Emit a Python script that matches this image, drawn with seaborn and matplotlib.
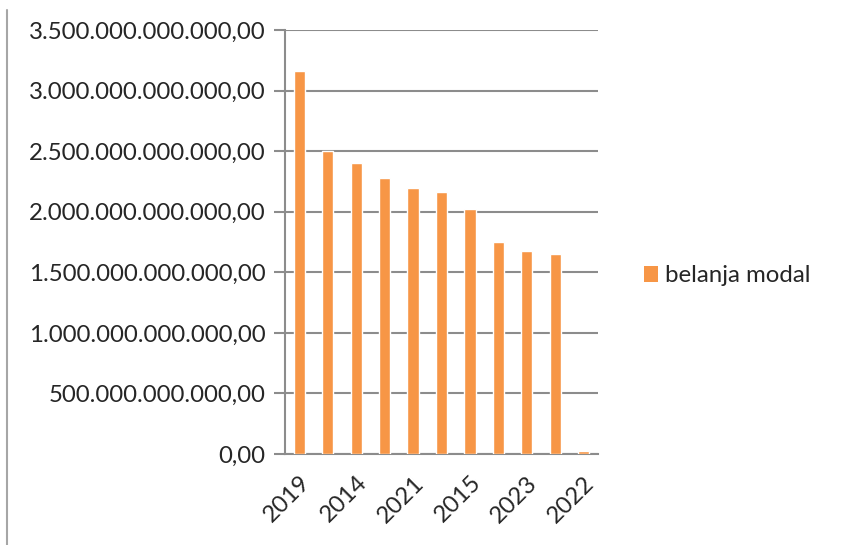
import matplotlib
matplotlib.use("Agg")
import matplotlib.pyplot as plt
import seaborn as sns
import pandas as pd
from matplotlib.ticker import FuncFormatter, FixedLocator
from matplotlib.patches import Patch
from matplotlib.lines import Line2D

# Only every other category label is visible in the reference; the hidden
# ones are unknown, so they are kept as explicit placeholders (never shown).
categories = ["2019", "(unlabelled 1)", "2014", "(unlabelled 2)", "2021", "(unlabelled 3)",
              "2015", "(unlabelled 4)", "2023", "(unlabelled 5)", "2022"]
values = [3.163e12, 2.500e12, 2.405e12, 2.282e12, 2.194e12, 2.161e12, 2.023e12,
          1.753e12, 1.674e12, 1.649e12, 0.022e12]
series_name = "belanja modal"
yticks = [0, 0.5e12, 1.0e12, 1.5e12, 2.0e12, 2.5e12, 3.0e12, 3.5e12]

sns.set_theme(style="white")
plt.rcParams['font.family'] = ['Lato', 'DejaVu Sans']

FS = 17.3

df = pd.DataFrame({"tahun": categories, "nilai": values})

fig = plt.figure(figsize=(8.41, 5.45), dpi=100)
ax = fig.add_axes([285/841, 1-454/545, (598-285)/841, (454-30)/545])

sns.barplot(data=df, x="tahun", y="nilai", order=categories, color="#F79646",
            width=0.39, saturation=1, ax=ax, zorder=3)

n = len(categories)
ax.set_xlim(-0.5, n-0.5)
ax.set_ylim(0, 3.5e12)
ax.yaxis.set_major_locator(FixedLocator(yticks))

def fmt(v, pos):
    s = f"{v:,.2f}"
    return s.replace(",", "X").replace(".", ",").replace("X", ".")
ax.yaxis.set_major_formatter(FuncFormatter(fmt))

ax.grid(axis="y", color="#8c8c8c", linewidth=1.5, zorder=0)
ax.set_axisbelow(True)
for side in ["top", "right"]:
    ax.spines[side].set_visible(False)
for side in ["left", "bottom"]:
    ax.spines[side].set_color("#8c8c8c")
    ax.spines[side].set_linewidth(1.5)
    ax.spines[side].set_zorder(2)

# label ticks: every other category
ax.set_xticks(list(range(0, n, 2)))
ax.set_xticklabels([categories[i] for i in range(0, n, 2)], rotation=45,
                   ha="right", rotation_mode="anchor", fontsize=FS)
ax.tick_params(axis="x", which="major", length=0, pad=13)
ax.set_xticks([i - 0.5 for i in range(n + 1)], minor=True)
ax.tick_params(axis="x", which="minor", length=8, width=1.5, color="#8c8c8c", direction="out")
ax.tick_params(axis="y", which="major", length=8, width=1.5, color="#8c8c8c",
               direction="out", labelsize=FS, pad=6, left=True)
ax.set_xlabel("")
ax.set_ylabel("")

handle = Patch(facecolor="#F79646", edgecolor="none")
fig.legend([handle], [series_name], loc="center left",
           bbox_to_anchor=(622/841, 1-276/545), frameon=False, fontsize=FS,
           handlelength=0.6, handleheight=0.6, handletextpad=0.3)

fig.add_artist(Line2D([7/841, 7/841], [0, 1-10/545], transform=fig.transFigure,
                      color="#a6a6a6", linewidth=1.5))

fig.savefig("out.png", dpi=100)
